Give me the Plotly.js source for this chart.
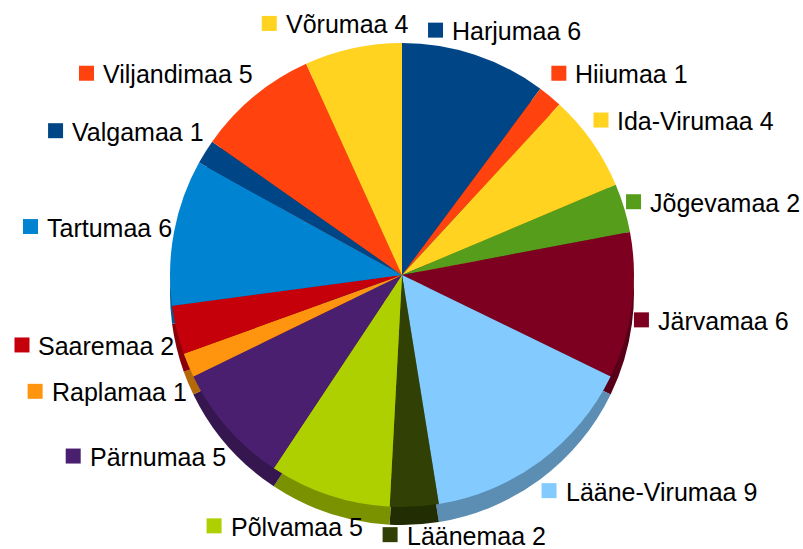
<!DOCTYPE html>
<html>
<head>
<meta charset="utf-8">
<script src="https://cdn.plot.ly/plotly-3.0.1.min.js"></script>
<style>html,body{margin:0;padding:0;background:#fff}#chart{width:803px;height:549px}</style>
</head>
<body>
<div id="chart"></div>
<script>
// ---- data ----
const regions = ["Harjumaa","Hiiumaa","Ida-Virumaa","Jõgevamaa","Järvamaa","Lääne-Virumaa","Läänemaa","Põlvamaa","Pärnumaa","Raplamaa","Saaremaa","Tartumaa","Valgamaa","Viljandimaa","Võrumaa"];
const counts  = [6,1,4,2,6,9,2,5,5,1,2,6,1,5,4];
const colors  = ["#004586","#ff420e","#ffd320","#579d1c","#7e0021","#83caff","#314004","#aecf00","#4b1f6f","#ff950e","#c5000b","#0084d1","#004586","#ff420e","#ffd320"];

// ---- geometry ----
const W = 803, H = 549;
const cx = 402, cy = 275, R = 232, depth = 18;
const FONT = "Liberation Sans, Arial, sans-serif";
const FS = 25;

function darken(hex, f){
  const n = parseInt(hex.slice(1),16);
  const r = Math.round(((n>>16)&255)*f), g = Math.round(((n>>8)&255)*f), b = Math.round((n&255)*f);
  return "rgb("+r+","+g+","+b+")";
}
const sideColors = colors.map(c => darken(c, 0.7));

const pieBase = {
  type: "pie", values: counts, labels: regions, sort: false, direction: "clockwise",
  rotation: 0, textinfo: "none", hoverinfo: "none", showlegend: false
};
const sideTrace = Object.assign({}, pieBase, {
  marker: {colors: sideColors, line: {width: 0}},
  domain: {x: [(cx-R)/W, (cx+R)/W], y: [1-(cy+depth+R)/H, 1-(cy+depth-R)/H]}
});
const topTrace = Object.assign({}, pieBase, {
  marker: {colors: colors, line: {width: 0}},
  domain: {x: [(cx-R)/W, (cx+R)/W], y: [1-(cy+R)/H, 1-(cy-R)/H]}
});

// ---- labels ----
const cvs = document.createElement("canvas").getContext("2d");
cvs.font = FS + "px 'Liberation Sans'";
const total = counts.reduce((a,b)=>a+b,0);
const SQ = 15, GAP = 9, LRX = R + 2, LRY = R + 8;
let cum = 0;
const boxes = regions.map((name, i) => {
  const th = 2*Math.PI*(cum + counts[i]/2)/total;
  cum += counts[i];
  const s = Math.sin(th), c = Math.cos(th);
  const px = cx + LRX*s, py = cy - LRY*c;
  const text = name + " " + counts[i];
  const w = SQ + GAP + cvs.measureText(text).width;
  const frac = Math.abs(s) >= 0.5 ? (s > 0 ? 0 : 1) : (1 - s)/2;
  const dy = c > 0.45 ? -16 : (c > 0 ? -3 : (c > -0.3 ? 14 : (c > -0.98 ? 24 : 21)));
  return {text, w, left: px - frac*w, yc: py + dy, px, color: colors[i]};
});
// simple horizontal collision avoidance
for (let it = 0; it < 5; it++) {
  for (let i = 0; i < boxes.length; i++) for (let j = i+1; j < boxes.length; j++) {
    const a = boxes[i], b = boxes[j];
    if (Math.abs(a.yc - b.yc) >= 24) continue;
    const [l, r] = a.px <= b.px ? [a, b] : [b, a];
    const ov = (l.left + l.w + 20) - r.left;
    if (ov > 0 && l.left < r.left + r.w) { l.left -= ov*0.3; r.left += ov*0.7; }
  }
}
const shapes = [], annotations = [];
boxes.forEach(b => {
  shapes.push({type: "rect", xref: "paper", yref: "paper",
    x0: b.left/W, x1: (b.left+SQ)/W, y0: 1-(b.yc+SQ/2-1)/H, y1: 1-(b.yc-SQ/2-1)/H,
    fillcolor: b.color, line: {width: 0}});
  annotations.push({xref: "paper", yref: "paper", x: (b.left+SQ+GAP-2)/W, y: 1-b.yc/H,
    xanchor: "left", yanchor: "middle", showarrow: false, text: b.text,
    font: {family: FONT, size: FS, color: "#000"}});
});

Plotly.newPlot("chart", [sideTrace, topTrace], {
  width: W, height: H, margin: {l:0, r:0, t:0, b:0},
  paper_bgcolor: "#fff", plot_bgcolor: "#fff",
  shapes, annotations
}, {staticPlot: true, displayModeBar: false});
</script>
</body>
</html>
